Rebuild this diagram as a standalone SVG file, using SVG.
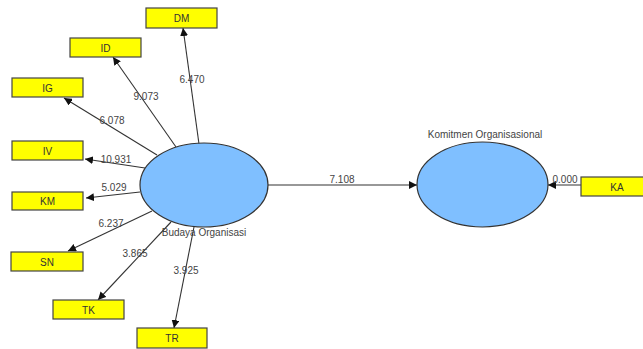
<svg xmlns="http://www.w3.org/2000/svg" width="643" height="349" viewBox="0 0 643 349">
<defs>
<marker id="ah" viewBox="0 0 10 10" refX="10" refY="5" markerWidth="8" markerHeight="8" markerUnits="userSpaceOnUse" orient="auto">
<path d="M0,0 L10,5 L0,10 z" fill="#111"/>
</marker>
<style>
.box{fill:#ffff00;stroke:#444;stroke-width:1.2}
.lv{fill:#7fbfff;stroke:#333;stroke-width:1.2}
.bt{font-family:"Liberation Sans",Arial,sans-serif;font-size:10px;fill:#333;text-anchor:middle}
.nt{font-family:"Liberation Sans",Arial,sans-serif;font-size:10px;fill:#444;text-anchor:middle}
.lt{font-family:"Liberation Sans",Arial,sans-serif;font-size:10px;fill:#444;text-anchor:middle}
.c{stroke:#333;stroke-width:1.1;fill:none;marker-end:url(#ah)}
</style>
</defs>
<rect width="643" height="349" fill="#ffffff"/>
<g id="connectors">
<line class="c" x1="199" y1="144" x2="183" y2="28"/>
<line class="c" x1="176" y1="147" x2="113" y2="57"/>
<line class="c" x1="157" y1="155" x2="64" y2="98"/>
<line class="c" x1="145" y1="168" x2="85" y2="159"/>
<line class="c" x1="140" y1="192" x2="86" y2="198"/>
<line class="c" x1="152" y1="211" x2="68" y2="251"/>
<line class="c" x1="171" y1="222" x2="98" y2="300"/>
<line class="c" x1="194" y1="227" x2="174" y2="328"/>
<line class="c" x1="268" y1="185" x2="417" y2="185"/>
<line class="c" x1="581" y1="185" x2="548" y2="185"/>
<text class="lt" x="192" y="83">6.470</text>
<text class="lt" x="146" y="100">9.073</text>
<text class="lt" x="112" y="124">6.078</text>
<text class="lt" x="116" y="163">10.931</text>
<text class="lt" x="114" y="191">5.029</text>
<text class="lt" x="111" y="227">6.237</text>
<text class="lt" x="135" y="257">3.865</text>
<text class="lt" x="186" y="274">3.925</text>
<text class="lt" x="342" y="183">7.108</text>
<text class="lt" x="565" y="183">0.000</text>
</g>
<g id="DM"><rect class="box" x="146" y="8" width="71" height="20"/><text class="bt" x="181.5" y="22">DM</text></g>
<g id="ID"><rect class="box" x="70" y="38" width="71" height="19"/><text class="bt" x="105.5" y="51.5">ID</text></g>
<g id="IG"><rect class="box" x="12" y="78" width="71" height="19"/><text class="bt" x="47.5" y="91.5">IG</text></g>
<g id="IV"><rect class="box" x="12" y="141" width="71" height="19"/><text class="bt" x="47.5" y="154.5">IV</text></g>
<g id="KM"><rect class="box" x="12" y="192" width="71" height="18"/><text class="bt" x="47.5" y="205">KM</text></g>
<g id="SN"><rect class="box" x="11" y="252" width="72" height="19"/><text class="bt" x="47" y="265.5">SN</text></g>
<g id="TK"><rect class="box" x="53" y="300" width="71" height="19"/><text class="bt" x="88.5" y="313.5">TK</text></g>
<g id="TR"><rect class="box" x="137" y="328" width="70" height="20"/><text class="bt" x="172" y="342">TR</text></g>
<g id="KA"><rect class="box" x="581" y="177" width="64" height="19"/><text class="bt" x="617" y="190.5">KA</text></g>
<g id="BudayaOrganisasi"><ellipse class="lv" cx="204" cy="185" rx="64" ry="42"/><text class="nt" x="204" y="236">Budaya Organisasi</text></g>
<g id="KomitmenOrganisasional"><ellipse class="lv" cx="482.5" cy="184.5" rx="65.5" ry="42.5"/><text class="nt" x="485" y="138">Komitmen Organisasional</text></g>
</svg>
